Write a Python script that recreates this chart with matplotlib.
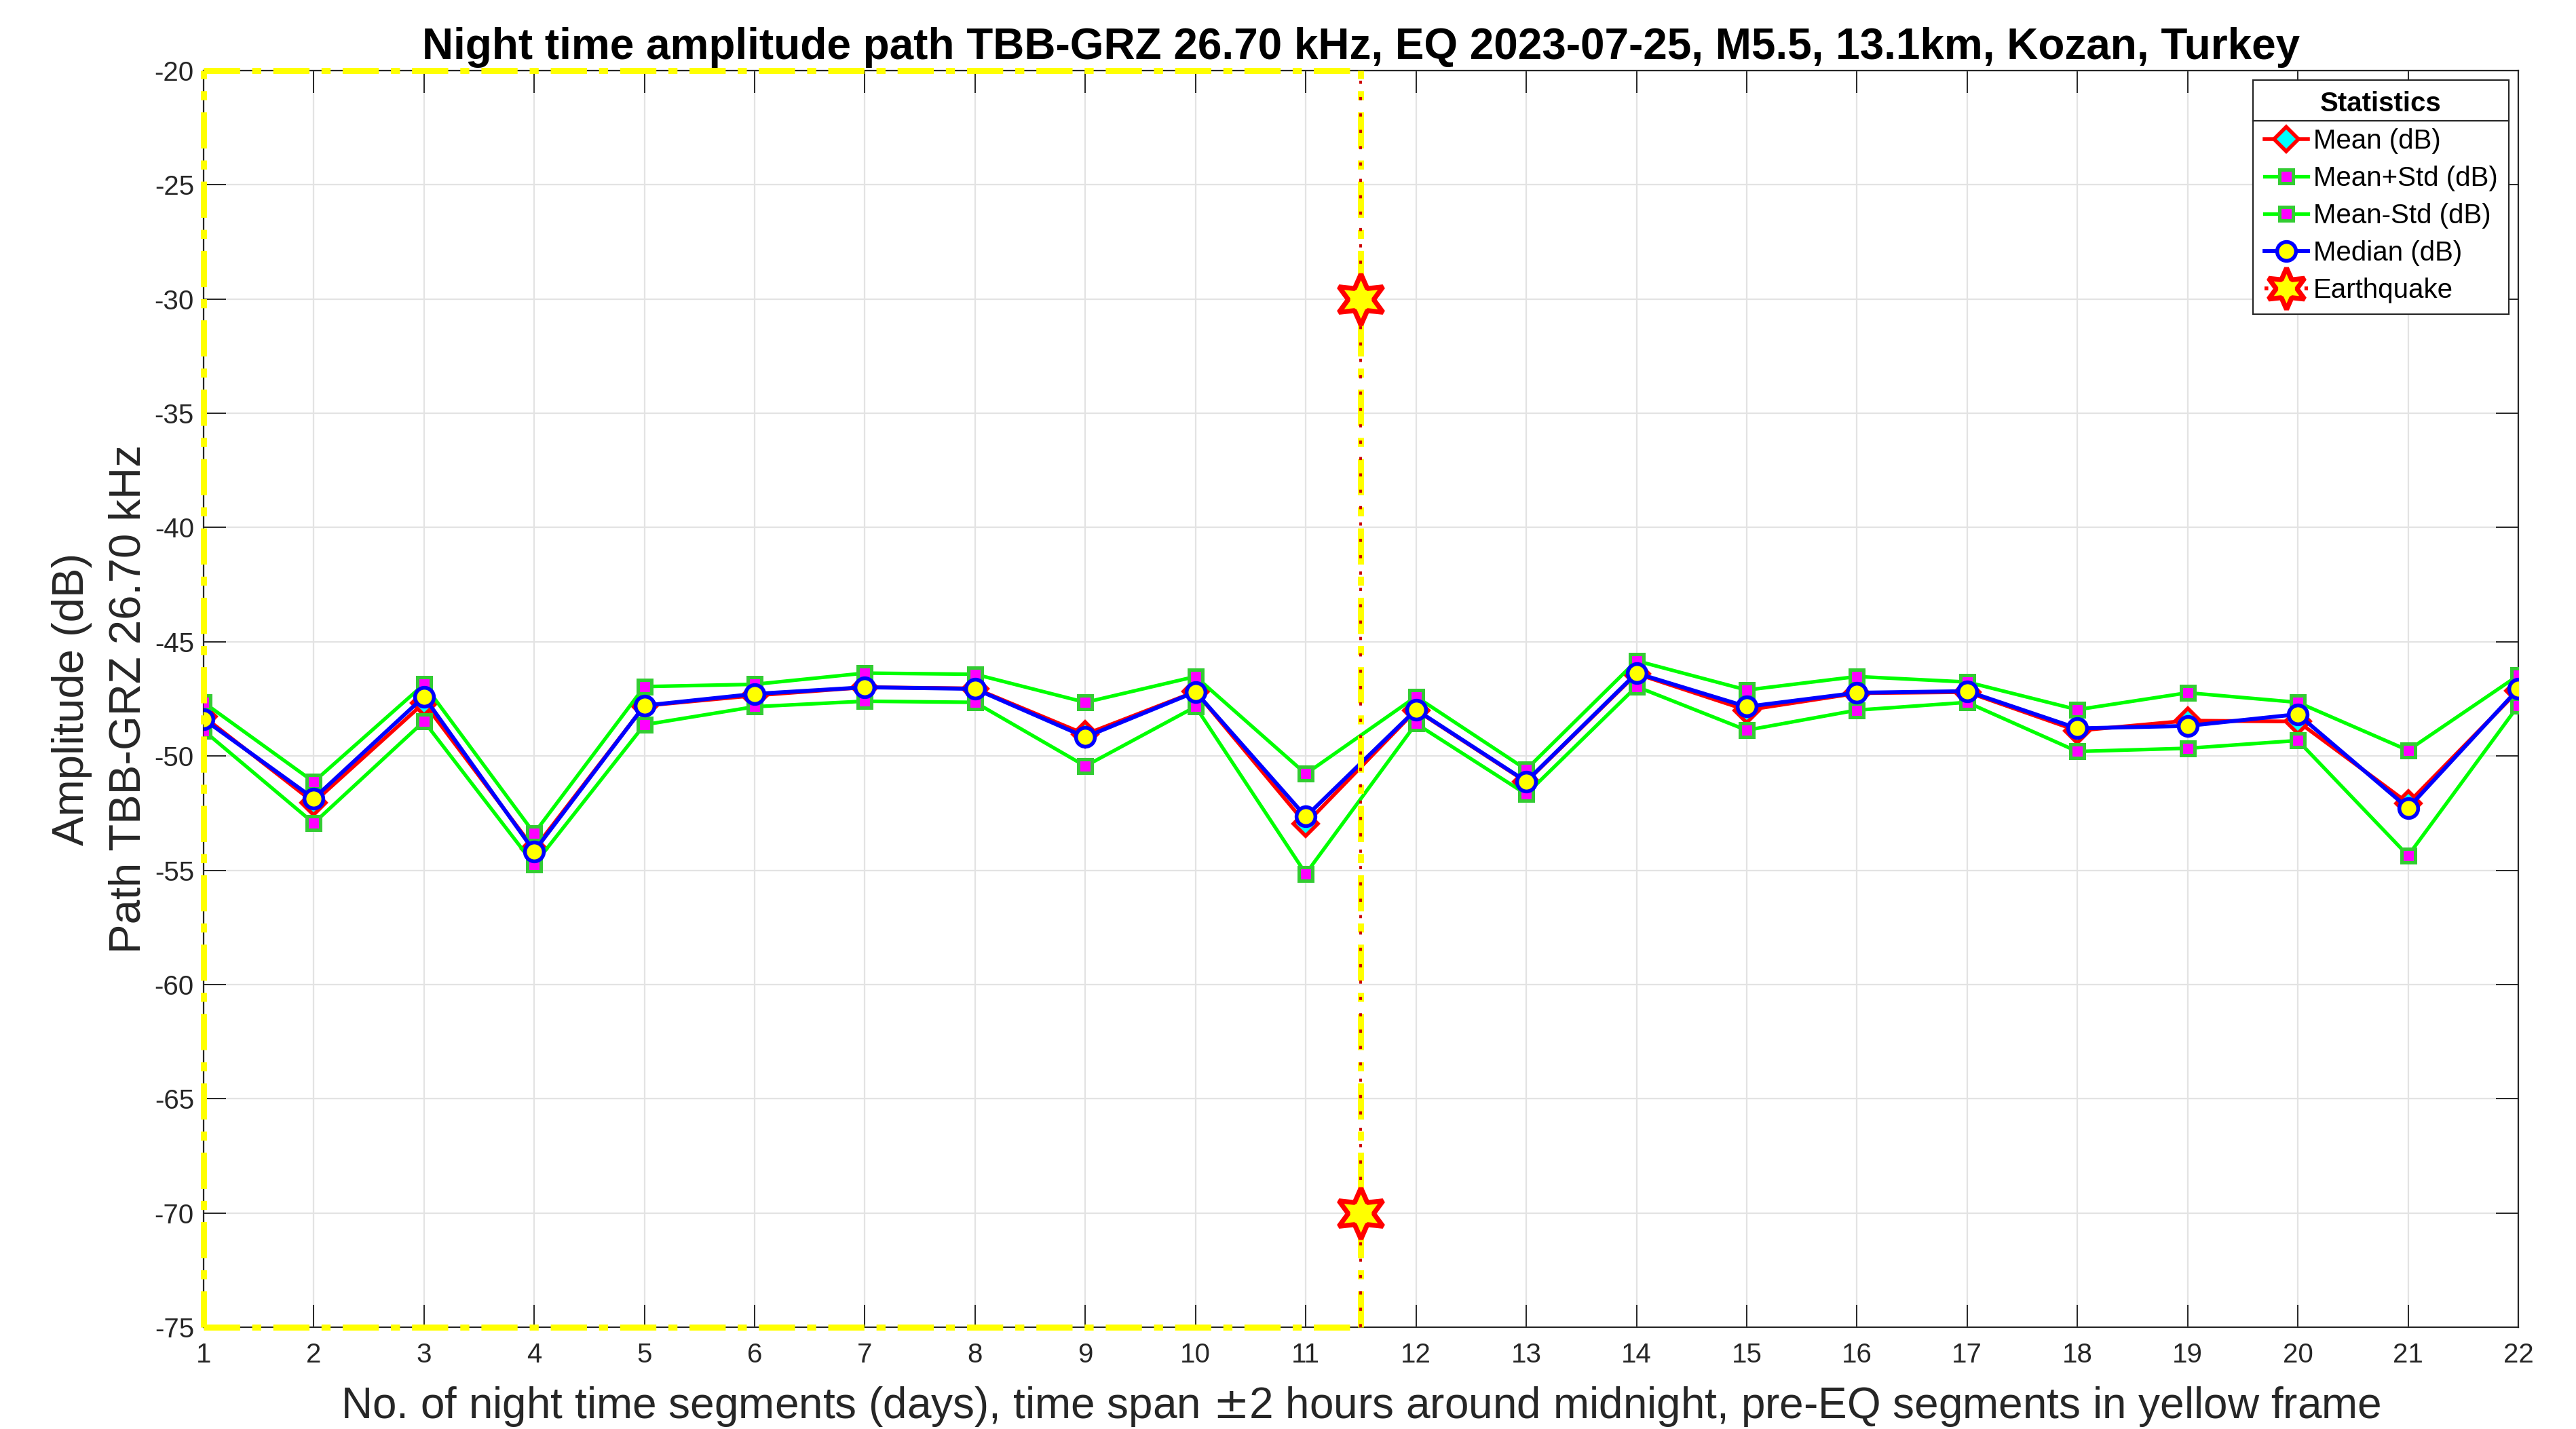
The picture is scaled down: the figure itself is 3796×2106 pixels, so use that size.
"""Night time amplitude statistics around an earthquake, MATLAB-like styling."""

import matplotlib
matplotlib.use("Agg")
import matplotlib.pyplot as plt
from matplotlib.lines import Line2D

plt.rcParams["font.family"] = ["Liberation Sans", "DejaVu Sans"]
plt.rcParams["axes.unicode_minus"] = False

# data
days = list(range(1, 23))
mean_db = [-48.27, -52.03, -47.67, -54.07, -47.80, -47.35, -46.99, -47.04, -49.05, -47.18, -52.97,
           -47.99, -51.13, -46.40, -47.99, -47.25, -47.20, -48.89, -48.45, -48.49, -52.06, -47.13]
mean_plus_std = [-47.65, -51.13, -46.86, -53.38, -46.96, -46.86, -46.37, -46.42, -47.65, -46.52, -50.78,
                 -47.40, -50.59, -45.83, -47.11, -46.52, -46.76, -47.97, -47.23, -47.65, -49.75, -46.47]
mean_minus_std = [-48.88, -52.94, -48.48, -54.75, -48.63, -47.84, -47.60, -47.65, -50.44, -47.84, -55.15,
                  -48.58, -51.67, -46.96, -48.87, -47.99, -47.65, -49.80, -49.66, -49.32, -54.36, -47.79]
median_db = [-48.38, -51.86, -47.40, -54.17, -47.79, -47.28, -46.99, -47.06, -49.17, -47.19, -52.65,
             -47.97, -51.11, -46.37, -47.84, -47.23, -47.16, -48.79, -48.68, -48.17, -52.28, -47.06]

eq_day = 11.5
eq_marks = [-30, -70]
frame_x = [1, 11.5]
y_range = [-75, -20]
y_ticks = list(range(-75, -19, 5))

title = "Night time amplitude path TBB-GRZ 26.70 kHz, EQ 2023-07-25, M5.5, 13.1km, Kozan, Turkey"
xlabel = ("No. of night time segments (days), time span $\\pm$2 hours around midnight, "
          "pre-EQ segments in yellow frame")
ylabel = "Amplitude (dB)\nPath TBB-GRZ 26.70 kHz"

axis_col = "#262626"
star = (6, 1, 0)

fig = plt.figure(figsize=(18.98, 10.53), dpi=200)
ax = fig.add_axes([0.079, 0.0712, 0.8986, 0.8794])

ax.plot(days, mean_db, color="red", lw=2.0, marker="D", ms=9, mfc="cyan", mec="red", mew=2.0,
        label="Mean (dB)", zorder=3)
ax.plot(days, mean_plus_std, color="#00FF00", lw=1.9, marker="s", ms=7.5, mfc="magenta", mec="#33CC33",
        mew=1.8, label="Mean+Std (dB)", zorder=3)
ax.plot(days, mean_minus_std, color="#00FF00", lw=1.9, marker="s", ms=7.5, mfc="magenta", mec="#33CC33",
        mew=1.8, label="Mean-Std (dB)", zorder=3)
ax.plot(days, median_db, color="blue", lw=2.1, marker="o", ms=10, mfc="yellow", mec="blue", mew=2.0,
        label="Median (dB)", zorder=4)

# pre-EQ frame
frame_style = dict(color="yellow", lw=3.2, ls=(0, (6, 2, 1.5, 2)), zorder=5, clip_on=False)
ax.plot(frame_x, [y_range[1], y_range[1]], **frame_style)
ax.plot(frame_x, [y_range[0], y_range[0]], **frame_style)
ax.plot([frame_x[0], frame_x[0]], y_range, **frame_style)

# earthquake line and markers
ax.plot([eq_day, eq_day], y_range, **frame_style)
ax.plot([eq_day, eq_day], y_range, color="#CC0000", lw=1.4, ls=(0, (1.2, 5)), zorder=6, clip_on=False)
ax.plot([eq_day] * len(eq_marks), eq_marks, ls="none", marker=star, ms=27, mfc="yellow",
        mec="red", mew=2.6, zorder=7)

ax.set_xlim(1, 22)
ax.set_ylim(*y_range)
ax.set_xticks(days)
ax.set_yticks(y_ticks)
ax.grid(True, color="#E3E3E3", lw=0.8)
ax.set_axisbelow(True)
ax.tick_params(direction="in", length=12, width=0.7, colors=axis_col, labelsize=14.5,
               top=True, right=True)
ax.tick_params(axis="x", pad=8)
ax.tick_params(axis="y", pad=5)
for sp in ax.spines.values():
    sp.set_color(axis_col)
    sp.set_linewidth(0.8)

ax.set_title(title, fontsize=23, fontweight="bold", pad=6)
ax.set_xlabel(xlabel, fontsize=23, color=axis_col, labelpad=9)
ax.set_ylabel(ylabel, fontsize=23.5, color=axis_col, labelpad=3, linespacing=1.5)

handles = ax.get_lines()[:4]
eq_handle = Line2D([], [], color="red", ls=":", lw=2.0, marker=star, ms=22, mfc="yellow",
                   mec="red", mew=2.6)
leg = ax.legend(list(handles) + [eq_handle],
                ["Mean (dB)", "Mean+Std (dB)", "Mean-Std (dB)", "Median (dB)", "Earthquake"],
                loc="upper right", fontsize=14.5, title="Statistics",
                title_fontproperties={"weight": "bold", "size": 14.5},
                frameon=True, fancybox=False, edgecolor=axis_col, framealpha=1,
                borderaxespad=0.35, handlelength=1.6, handletextpad=0.2, labelspacing=0.42,
                borderpad=0.4)
leg.get_frame().set_linewidth(0.8)
leg.set_zorder(10)

# separator under legend title
fig.canvas.draw()
renderer = fig.canvas.get_renderer()
lb = leg.get_window_extent(renderer)
tb = leg.get_title().get_window_extent(renderer)
ysep = tb.y0 - 6
inv = fig.transFigure.inverted()
(x0, y0), (x1, _) = inv.transform([(lb.x0, ysep), (lb.x1, ysep)])
fig.add_artist(Line2D([x0, x1], [y0, y0], color=axis_col, lw=0.8, transform=fig.transFigure, zorder=11))

fig.savefig("out.png", dpi=200)
